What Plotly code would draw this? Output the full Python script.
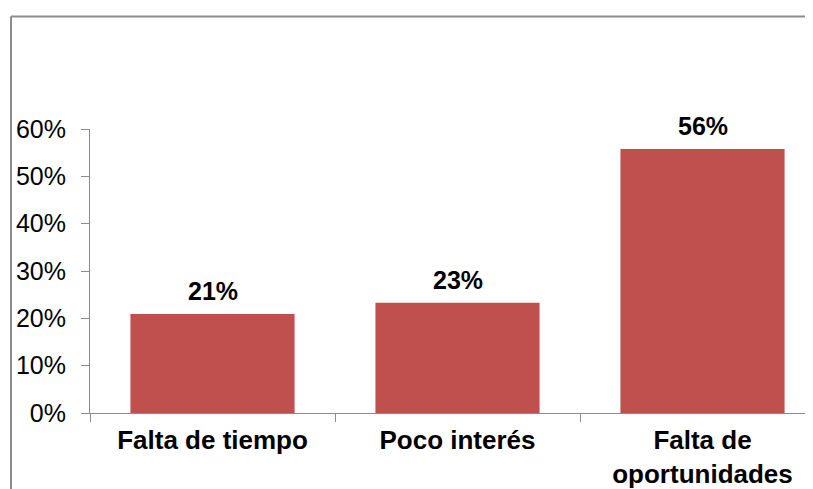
"""Bar chart: reasons (percentages) recreated with Plotly."""

import plotly.graph_objects as go

categories = ["Falta de tiempo", "Poco interés", "Falta de<br>oportunidades"]
values = [0.209, 0.233, 0.558]
labels = ["21%", "23%", "56%"]
y_ticks = [0, 0.1, 0.2, 0.3, 0.4, 0.5, 0.6]

W, H = 805, 481
L, R, T, B = 82, 0, 121, 72
pw, ph = W - L - R, H - T - B

fig = go.Figure()

fig.add_trace(
    go.Bar(
        x=categories,
        y=values,
        marker={"color": "#C0504D", "line": {"width": 0}},
        width=0.67,
    )
)

# value labels above bars
for cat, val, lab in zip(categories, values, labels):
    fig.add_annotation(
        x=cat, y=val, text=f"<b>{lab}</b>", showarrow=False,
        yanchor="bottom", yshift=7,
        font={"family": "Liberation Sans", "size": 25, "color": "black"},
    )

# outer frame (left + top edges of the chart box)
fx = (3 - L) / pw
fy = (H - B - 7) / ph
fig.add_shape(type="line", xref="paper", yref="paper", x0=fx, x1=fx, y0=fy, y1=-0.4,
              line={"color": "#8c8c8c", "width": 2})
fig.add_shape(type="line", xref="paper", yref="paper", x0=fx, x1=1.05, y0=fy, y1=fy,
              line={"color": "#8c8c8c", "width": 2})

fig.update_layout(
    width=W,
    height=H,
    margin={"l": L, "r": R, "t": T, "b": B, "pad": 0},
    plot_bgcolor="white",
    paper_bgcolor="white",
    showlegend=False,
    font={"family": "Liberation Sans", "size": 25, "color": "black"},
    xaxis={
        "range": [-0.5, 2.451],
        "showline": True,
        "linecolor": "#8c8c8c",
        "linewidth": 1,
        "ticks": "outside",
        "tickson": "boundaries",
        "ticklen": 8,
        "tickcolor": "#8c8c8c",
        "ticklabelstandoff": 4,
        "tickfont": {"family": "Liberation Sans", "size": 26, "weight": "bold"},
        "showgrid": False,
    },
    yaxis={
        "range": [0, 0.6],
        "tickvals": y_ticks,
        "tickformat": ".0%",
        "showline": True,
        "linecolor": "#8c8c8c",
        "linewidth": 1,
        "ticks": "outside",
        "ticklen": 8,
        "tickcolor": "#8c8c8c",
        "ticklabelstandoff": 10,
        "tickfont": {"family": "Liberation Sans", "size": 25},
        "showgrid": False,
        "zeroline": False,
    },
)

fig.write_html("out.html")
